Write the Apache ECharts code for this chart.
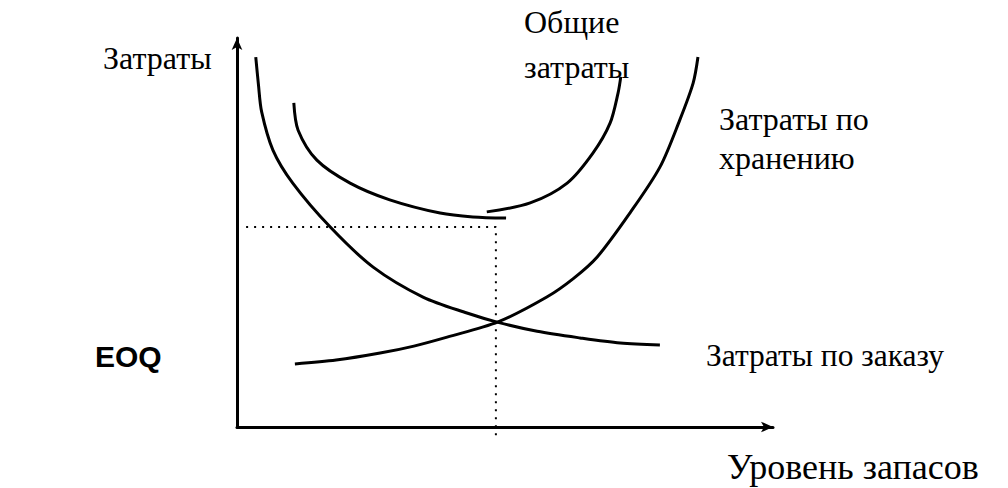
<!DOCTYPE html>
<html>
<head>
<meta charset="utf-8">
<script src="https://cdn.jsdelivr.net/npm/echarts@6/dist/echarts.min.js"></script>
<style>
html,body{margin:0;padding:0;background:#fff;}
#chart{width:1008px;height:488px;}
</style>
</head>
<body>
<div id="chart"></div>
<script>
// Conceptual EOQ chart; axes run 0..100 in both directions
const orderingCost = [[3.5,95.1],[4.0,88.0],[4.6,81.0],[6.7,71.2],[10.4,62.7],[17.4,51.4],[25.4,41.1],[34.7,33.4],[42.9,29.3],[48.7,26.9],[56.0,24.6],[64.0,22.9],[71.5,21.6],[78.9,21.1]];
const holdingCost = [[10.8,16.2],[18.5,17.2],[26.7,19.0],[33.0,20.8],[39.2,23.1],[48.7,27.0],[57.8,33.4],[62.8,38.2],[67.2,43.7],[73.3,55.0],[78.9,66.8],[82.6,78.9],[85.1,88.4],[86.0,95.1]];
const totalCostLeft = [[10.6,83.3],[11.4,76.3],[14.9,68.6],[21.1,62.7],[28.5,58.4],[37.9,55.0],[44.0,54.0],[50.2,53.7]];
const totalCostRight = [[46.6,55.3],[54.7,57.6],[61.6,62.7],[66.4,70.4],[69.6,78.1],[71.1,85.9],[71.6,90.0]];
const eoqX = 48.3;
const eoqY = 51.4;
const dottedStartX = 1.7;
const dottedBottomY = -3.3;

const yAxisName = 'Затраты';
const xAxisName = 'Уровень запасов';
const totalLabel = ['Общие', 'затраты'];
const holdingLabel = ['Затраты по', 'хранению'];
const orderingLabel = 'Затраты по заказу';
const eoqLabel = 'EOQ';

const chart = echarts.init(document.getElementById('chart'), null, {renderer: 'svg'});
const serif = 'Liberation Serif';
const txt = (text, x, y, size) => ({
  type: 'text', x: x, y: y, silent: true,
  style: {text: text, font: size + 'px "' + serif + '"', fill: '#000', textAlign: 'left', textVerticalAlign: 'middle'}
});

const curveStyle = {color: '#000', width: 3};
const mkCurve = (name, data) => ({
  name: name, type: 'line', data: data, smooth: 0.3, showSymbol: false, silent: true,
  lineStyle: curveStyle, itemStyle: {color: '#000'}
});

chart.setOption({
  animation: false,
  backgroundColor: '#fff',
  grid: {left: 237, top: 38, right: 235, bottom: 61},
  xAxis: {
    type: 'value', min: 0, max: 100,
    axisLine: {show: true, onZero: false, symbol: ['none', 'arrow'], symbolSize: [8, 12], lineStyle: {color: '#000', width: 3}},
    axisTick: {show: false}, axisLabel: {show: false}, splitLine: {show: false}
  },
  yAxis: {
    type: 'value', min: 0, max: 100,
    axisLine: {show: true, onZero: false, symbol: ['none', 'arrow'], symbolSize: [8, 12], lineStyle: {color: '#000', width: 3}},
    axisTick: {show: false}, axisLabel: {show: false}, splitLine: {show: false}
  },
  series: [
    mkCurve('Затраты по заказу', orderingCost),
    mkCurve('Затраты по хранению', holdingCost),
    mkCurve('Общие затраты', totalCostLeft),
    mkCurve('Общие затраты ', totalCostRight),
    {
      name: 'EOQ', type: 'line', showSymbol: false, silent: true, clip: false,
      data: [[dottedStartX, eoqY], [eoqX, eoqY], [eoqX, dottedBottomY]],
      lineStyle: {color: '#000', width: 2, type: [2, 6], cap: 'butt'}
    }
  ],
  graphic: [
    txt(yAxisName, 103, 58, 32),
    txt(totalLabel[0], 524, 22, 32),
    txt(totalLabel[1], 524, 67, 32),
    txt(holdingLabel[0], 719, 119, 32),
    txt(holdingLabel[1], 719, 158, 32),
    txt(orderingLabel, 706, 355, 31.5),
    txt(xAxisName, 727, 467, 36),
    {type: 'text', x: 95, y: 356, silent: true, style: {text: eoqLabel, font: 'bold 30px "Liberation Sans"', fill: '#000', textAlign: 'left', textVerticalAlign: 'middle'}}
  ]
});
</script>
</body>
</html>
